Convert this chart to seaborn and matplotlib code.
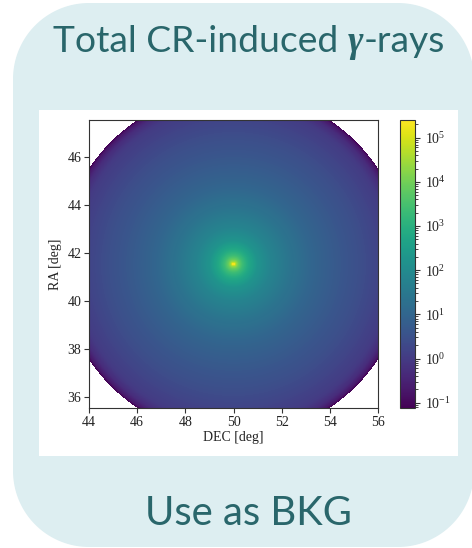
import numpy as np
import pandas as pd
import matplotlib
matplotlib.use("Agg")
import matplotlib.pyplot as plt
import seaborn as sns
from matplotlib.colors import LogNorm
from matplotlib.patches import Polygon, Rectangle

# ---------------- data ----------------
dec_ticks = [44, 46, 48, 50, 52, 54, 56]
ra_ticks = [36, 38, 40, 42, 44, 46]
dec_range = [44.0, 56.0]
ra_range = [35.53, 47.53]
center_dec = 50.0
center_ra = 41.53
mask_radius = 7.2
# radial profile: distance from centre [deg] vs log10(intensity)
prof_r = [0.0, 0.03, 0.06, 0.1, 0.2, 0.35, 0.6, 1.0, 1.6, 2.4, 3.2, 4.2, 5.2, 6.0, 6.6, 6.9, 7.1, 7.2]
prof_log = [5.4, 5.3, 4.9, 4.4, 3.85, 3.35, 2.8, 2.2, 1.75, 1.35, 1.0, 0.7, 0.45, 0.2, 0.0, -0.3, -0.7, -1.12]
cbar_range_log = [-1.12, 5.4]
title_parts = ["Total CR-induced ", "\u03b3", "-rays"]
footer = "Use as BKG"
xlabel = "DEC [deg]"
ylabel = "RA [deg]"

# ---------------- style ----------------
sns.set_style("ticks")
plt.rcParams["font.family"] = ["Liberation Serif", "DejaVu Serif"]
plt.rcParams["mathtext.fontset"] = "stix"

W, H = 472, 548
fig = plt.figure(figsize=(W / 100, H / 100), dpi=100)
fig.patch.set_facecolor("white")

bg = fig.add_axes([0, 0, 1, 1])
bg.set_xlim(0, W)
bg.set_ylim(H, 0)
bg.axis("off")


def rounded_rect(x0, y0, x1, y1, rad):
    pts = []
    corners = [(x1 - rad, y0 + rad, -90, 0), (x1 - rad, y1 - rad, 0, 90),
               (x0 + rad, y1 - rad, 90, 180), (x0 + rad, y0 + rad, 180, 270)]
    for cx, cy, a0, a1 in corners:
        a = np.radians(np.linspace(a0, a1, 40))
        pts += list(zip(cx + rad * np.cos(a), cy + rad * np.sin(a)))
    return np.array(pts)


bg.add_patch(Polygon(rounded_rect(13, 3, 474, 547, 76), closed=True,
                     fc="#ddeef1", ec="none"))
bg.add_patch(Rectangle((39, 110), 419, 346, fc="white", ec="none"))

# ---------------- heatmap ----------------
n = 288
dd = (dec_range[1] - dec_range[0]) / n
dr = (ra_range[1] - ra_range[0]) / n
dec_c = dec_range[0] + (np.arange(n) + 0.5) * dd
ra_c = ra_range[1] - (np.arange(n) + 0.5) * dr
D, R = np.meshgrid(dec_c, ra_c)
rr = np.hypot(D - center_dec, R - center_ra)
vals = 10 ** np.interp(rr, prof_r, prof_log)
df = pd.DataFrame(vals, index=np.round(ra_c, 4), columns=np.round(dec_c, 4))

ax = fig.add_axes([89 / W, 1 - 408 / H, 289 / W, 288 / H])
cax = fig.add_axes([400 / W, 1 - 408 / H, 15 / W, 288 / H])
sns.heatmap(df, ax=ax, cbar_ax=cax, cmap="viridis",
            norm=LogNorm(vmin=10 ** cbar_range_log[0], vmax=10 ** cbar_range_log[1]),
            mask=rr > mask_radius, xticklabels=False, yticklabels=False,
            rasterized=True)

ax.set_xticks([(d - dec_range[0]) / dd for d in dec_ticks])
ax.set_xticklabels([str(d) for d in dec_ticks], rotation=0)
ax.set_yticks([(ra_range[1] - r) / dr for r in ra_ticks])
ax.set_yticklabels([str(r) for r in ra_ticks], rotation=0)
ax.tick_params(direction="out", length=3.5, width=0.8, labelsize=10,
               color="#333333", labelcolor="#222222", pad=2)
for s in ax.spines.values():
    s.set_visible(True)
    s.set_linewidth(0.8)
    s.set_color("#333333")
ax.set_xlabel(xlabel, fontsize=10, color="#222222", labelpad=2)
ax.set_ylabel(ylabel, fontsize=10, color="#222222", labelpad=4)

cb = ax.collections[0].colorbar
cb.outline.set_visible(True)
cb.outline.set_linewidth(0.8)
cb.outline.set_edgecolor("#333333")
cb.ax.tick_params(labelsize=10, color="#333333", labelcolor="#222222")
cb.ax.tick_params(which="major", length=3.5, width=0.8)
cb.ax.tick_params(which="minor", length=2, width=0.6)

# ---------------- texts ----------------
tcol = "#29666b"
renderer = fig.canvas.get_renderer()

base = 24
pieces = []
for i, p in enumerate(title_parts):
    if i == 1:
        t = bg.text(0, 52, p, fontsize=base, color=tcol, family="Liberation Serif",
                    style="italic", weight="bold", va="baseline", ha="left")
    else:
        t = bg.text(0, 52, p, fontsize=base, color=tcol, family="Lato",
                    va="baseline", ha="left")
    pieces.append(t)
widths = [t.get_window_extent(renderer).width for t in pieces]
scale = 392 / sum(widths)
for t in pieces:
    t.set_fontsize(base * scale)
widths = [t.get_window_extent(renderer).width for t in pieces]
x = 249 - sum(widths) / 2
for t, w in zip(pieces, widths):
    t.set_x(x)
    x += w

ft = bg.text(248.5, 525, footer, fontsize=24, color=tcol, family="Lato",
             va="baseline", ha="center")
w = ft.get_window_extent(renderer).width
ft.set_fontsize(24 * 207 / w)

fig.savefig("out.png", dpi=100, facecolor="white")
